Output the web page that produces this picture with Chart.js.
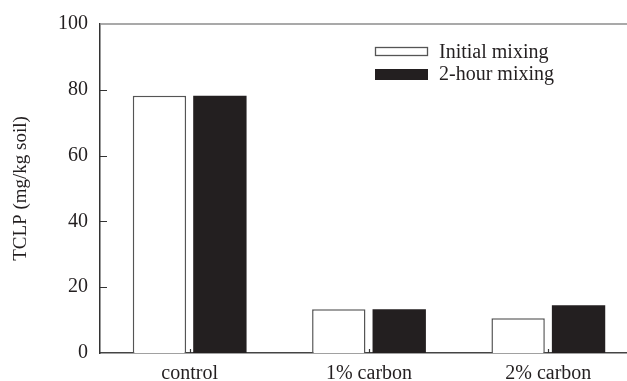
<!DOCTYPE html>
<html lang="en">
<head>
<meta charset="UTF-8">
<title>TCLP</title>
<script src="https://cdn.jsdelivr.net/npm/chart.js@4.4.1/dist/chart.umd.min.js"></script>
<style>
  html, body { margin: 0; padding: 0; background: #fff; overflow: hidden; }
  #wrap { position: absolute; left: 0; top: 0; width: 645px; height: 381px; }
</style>
</head>
<body>
<div id="wrap"><canvas id="chart"></canvas></div>
<script>
const categories = ['control', '1% carbon', '2% carbon'];
const initialMixing = [78.2, 13.3, 10.6];
const twoHourMixing = [78.2, 13.3, 14.5];
const yTicks = [0, 20, 40, 60, 80, 100];

const serif = '"Liberation Serif", "Times New Roman", serif';
const ink = '#231f20';

// frame, inward ticks and the legend box in the upper right
const extras = {
  id: 'extras',
  afterDraw(chart) {
    const ctx = chart.ctx;
    const a = chart.chartArea;
    const y = chart.scales.y;
    const x = chart.scales.x;
    ctx.save();
    ctx.strokeStyle = '#8c8c8c';
    ctx.lineWidth = 1.5;
    ctx.beginPath();
    ctx.moveTo(a.left, a.top);
    ctx.lineTo(a.right, a.top);
    ctx.stroke();

    ctx.strokeStyle = '#333';
    ctx.lineWidth = 1.2;
    ctx.beginPath();
    yTicks.slice(1, -1).forEach(v => {
      const py = Math.round(y.getPixelForValue(v)) + 0.5;
      ctx.moveTo(a.left, py);
      ctx.lineTo(a.left + 7, py);
    });
    categories.forEach((c, i) => {
      const px = Math.round(x.getPixelForValue(i)) + 0.5;
      ctx.moveTo(px, a.bottom);
      ctx.lineTo(px, a.bottom - 4);
    });
    ctx.stroke();

    // legend
    const ds = chart.data.datasets;
    ctx.font = '20px ' + serif;
    ctx.textBaseline = 'alphabetic';
    ctx.fillStyle = '#fff';
    ctx.fillRect(375, 47, 53, 9);
    ctx.strokeStyle = '#555';
    ctx.lineWidth = 1.3;
    ctx.strokeRect(375.5, 47.5, 52, 8);
    ctx.fillStyle = ink;
    ctx.fillRect(375, 69, 53, 11);
    ctx.fillText(ds[0].label, 439, 58);
    ctx.fillText(ds[1].label, 439, 80);
    ctx.restore();
  }
};

new Chart(document.getElementById('chart'), {
  type: 'bar',
  data: {
    labels: categories,
    datasets: [{
      label: 'Initial mixing',
      data: initialMixing,
      backgroundColor: '#fff',
      borderColor: '#555',
      borderWidth: 1.5,
      borderSkipped: 'bottom'
    }, {
      label: '2-hour mixing',
      data: twoHourMixing,
      backgroundColor: ink,
      borderColor: ink,
      borderWidth: 0
    }]
  },
  options: {
    responsive: true,
    maintainAspectRatio: false,
    animation: false,
    layout: { padding: { top: 21, right: 7, left: 0, bottom: 0 } },
    categoryPercentage: 0.674,
    barPercentage: 0.883,
    plugins: { legend: { display: false }, tooltip: { enabled: false } },
    scales: {
      x: {
        grid: { display: false, drawTicks: false },
        border: { display: true, color: '#444', width: 1.5 },
        ticks: { color: ink, font: { family: serif, size: 20 }, padding: 9 },
        afterFit(s) { s.height = 28; }
      },
      y: {
        min: 0, max: 100,
        afterBuildTicks(s) { s.ticks = yTicks.map(v => ({ value: v })); },
        grid: { display: false, drawTicks: false },
        border: { display: true, color: '#333', width: 1.5 },
        ticks: { color: ink, font: { family: serif, size: 20 }, padding: 12 },
        title: {
          display: true, text: 'TCLP (mg/kg soil)', color: ink,
          font: { family: serif, size: 19 }, padding: { top: 10, bottom: 0 }
        },
        afterFit(s) { s.width = 100; }
      }
    }
  },
  plugins: [extras]
});
</script>
</body>
</html>
